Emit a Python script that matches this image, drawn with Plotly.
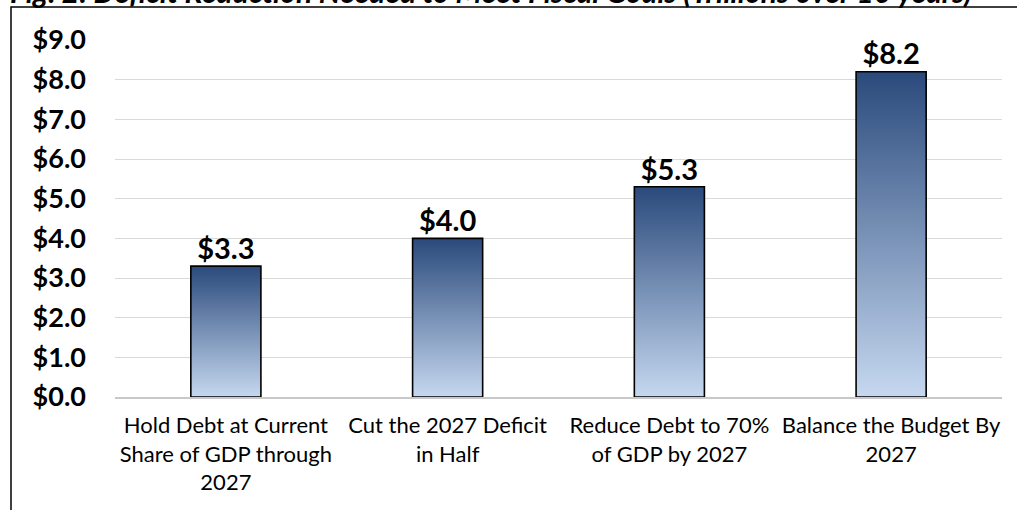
import plotly.graph_objects as go

categories = [
    "Hold Debt at Current<br>Share of GDP through<br>2027",
    "Cut the 2027 Deficit<br>in Half",
    "Reduce Debt to 70%<br>of GDP by 2027",
    "Balance the Budget By<br>2027",
]
values = [3.3, 4.0, 5.3, 8.2]
y_ticks = [0, 1, 2, 3, 4, 5, 6, 7, 8, 9]
y_ticklabels = [f"${v:.1f}" for v in y_ticks]
title_text = "Fig. 2: Deficit Reduction Needed to Meet Fiscal Goals (Trillions over 10 years)"

BAR_W = 0.316
FONT = "Lato"

fig = go.Figure()
positions = list(range(len(categories)))
for i, v in zip(positions, values):
    xs = [i - BAR_W / 2, i - BAR_W / 2, i + BAR_W / 2, i + BAR_W / 2, i - BAR_W / 2]
    ys = [0, v, v, 0, 0]
    fig.add_trace(go.Scatter(
        x=xs, y=ys, mode="lines", fill="toself",
        line=dict(color="black", width=1.6),
        fillgradient=dict(type="vertical",
                          colorscale=[[0, "#c6d8f0"], [1, "#2a4a7c"]]),
        hoverinfo="skip", showlegend=False,
    ))

fig.add_trace(go.Scatter(
    x=positions, y=values, mode="text",
    text=[f"${v:.1f}" for v in values], textposition="top center",
    textfont=dict(family=FONT, size=29, color="black", weight="bold"),
    showlegend=False, hoverinfo="skip", cliponaxis=False,
))

fig.update_layout(
    width=1017, height=510,
    margin=dict(l=115, r=15, t=40, b=113),
    paper_bgcolor="white", plot_bgcolor="white",
    font=dict(family=FONT, color="black"),
    xaxis=dict(
        range=[-0.5, 3.5], tickvals=positions, ticktext=categories,
        showgrid=False, zeroline=False, showline=True, linecolor="#c8c8c8",
        linewidth=1.5, ticks="", ticklabelstandoff=8,
        tickfont=dict(family=FONT, size=22, color="black"),
    ),
    yaxis=dict(
        range=[0, 9], tickvals=y_ticks, ticktext=y_ticklabels,
        showgrid=True, gridcolor="#d9d9d9", gridwidth=1.3,
        zeroline=False, showline=False, ticks="", ticklabelstandoff=28,
        tickfont=dict(family=FONT, size=27, color="black", weight="bold"),
    ),
    shapes=[dict(type="rect", xref="paper", yref="paper",
                 x0=(11 - 115) / 887, x1=1.3, y0=-0.6, y1=(397 - 7) / 357,
                 line=dict(color="black", width=1.5), fillcolor="rgba(0,0,0,0)",
                 layer="above")],
    annotations=[dict(text=title_text, xref="paper", yref="paper",
                      x=(491 - 115) / 887, y=(397 - 11) / 357,
                      xanchor="center", yanchor="bottom", showarrow=False,
                      font=dict(family=FONT, size=30, color="black",
                                weight="bold", style="italic"))],
)

fig.write_html("out.html")
